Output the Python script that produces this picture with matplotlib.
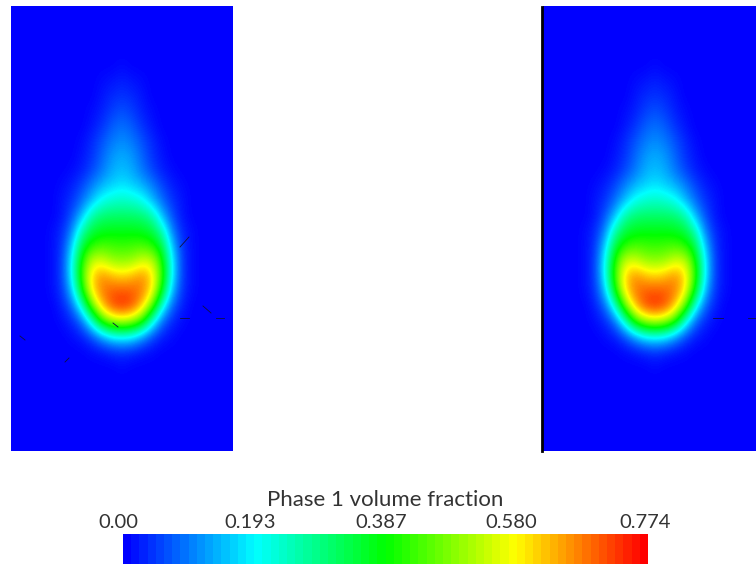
import numpy as np
import matplotlib
matplotlib.use('Agg')
import matplotlib.pyplot as plt
from matplotlib.colors import LinearSegmentedColormap

W, H = 756, 565
VMAX = 0.774

TITLE = 'Phase 1 volume fraction'
TICK_LABELS = ['0.00', '0.193', '0.387', '0.580', '0.774']
TICK_PIXELS = [118, 250, 381, 511, 645]

# half of the plume, share of the colour scale
# columns: 0, 10, ... 110 px from the plume axis, rows: y = 6, 21, ... 456 px
OFFSETS = np.arange(0, 120, 10)
ROWS_Y = np.arange(6, 470, 15)
HALF_PLUME = [
    [0, 0, 0, 0, 0, 0, 0, 0, 0, 0, 0, 0],
    [0, 0, 0, 0, 0, 0, 0, 0, 0, 0, 0, 0],
    [0, 0, 0, 0, 0, 0, 0, 0, 0, 0, 0, 0],
    [0, 0, 0, 0, 0, 0, 0, 0, 0, 0, 0, 0],
    [.01, 0, 0, 0, 0, 0, 0, 0, 0, 0, 0, 0],
    [.03, .02, .01, 0, 0, 0, 0, 0, 0, 0, 0, 0],
    [.05, .04, .02, 0, 0, 0, 0, 0, 0, 0, 0, 0],
    [.08, .06, .03, .01, 0, 0, 0, 0, 0, 0, 0, 0],
    [.11, .09, .05, .02, 0, 0, 0, 0, 0, 0, 0, 0],
    [.14, .12, .08, .04, .01, 0, 0, 0, 0, 0, 0, 0],
    [.17, .15, .10, .05, .02, 0, 0, 0, 0, 0, 0, 0],
    [.19, .17, .12, .07, .03, .01, 0, 0, 0, 0, 0, 0],
    [.23, .21, .18, .13, .07, .03, .01, 0, 0, 0, 0, 0],
    [.31, .30, .27, .19, .11, .05, .02, 0, 0, 0, 0, 0],
    [.40, .40, .39, .34, .19, .08, .02, 0, 0, 0, 0, 0],
    [.48, .48, .47, .44, .33, .13, .04, .01, 0, 0, 0, 0],
    [.55, .56, .57, .54, .44, .20, .05, .01, 0, 0, 0, 0],
    [.64, .65, .71, .70, .53, .25, .06, .01, 0, 0, 0, 0],
    [.79, .82, .86, .79, .56, .25, .06, .01, 0, 0, 0, 0],
    [.92, .91, .88, .77, .49, .19, .05, .01, 0, 0, 0, 0],
    [.96, .93, .81, .60, .29, .10, .03, 0, 0, 0, 0, 0],
    [.70, .66, .55, .30, .11, .04, .01, 0, 0, 0, 0, 0],
    [.27, .25, .17, .08, .03, .01, 0, 0, 0, 0, 0, 0],
    [.05, .04, .02, .01, 0, 0, 0, 0, 0, 0, 0, 0],
    [.01, 0, 0, 0, 0, 0, 0, 0, 0, 0, 0, 0],
    [0, 0, 0, 0, 0, 0, 0, 0, 0, 0, 0, 0],
    [0, 0, 0, 0, 0, 0, 0, 0, 0, 0, 0, 0],
    [0, 0, 0, 0, 0, 0, 0, 0, 0, 0, 0, 0],
    [0, 0, 0, 0, 0, 0, 0, 0, 0, 0, 0, 0],
    [0, 0, 0, 0, 0, 0, 0, 0, 0, 0, 0, 0],
    [0, 0, 0, 0, 0, 0, 0, 0, 0, 0, 0, 0],
]

# small dark mesh artefacts, (x0, y0, x1, y1) in px
LEFT_SPECKS = [(180, 247, 189, 237), (203, 306, 211, 313), (180, 318, 189, 318),
               (216, 318, 224, 318), (113, 323, 118, 327), (20, 336, 25, 340),
               (65, 362, 69, 358)]
RIGHT_SPECKS = [(713, 318, 723, 318), (748, 318, 756, 318)]

COLOURS = ['#0000ff', '#00ffff', '#00ff00', '#ffff00', '#ff0000']


def add_panel(fig, left, right, centre, specks):
    ax = fig.add_axes([left / W, 1 - 451 / H, (right - left) / W, 445 / H])
    half = np.array(HALF_PLUME) * VMAX
    field = np.hstack([half[:, :0:-1], half])
    ax.imshow(field, cmap=jet_like, vmin=0, vmax=VMAX, aspect='auto',
              interpolation='bicubic', interpolation_stage='data',
              extent=(-OFFSETS[-1] - 5, OFFSETS[-1] + 5, ROWS_Y[-1] + 7.5, ROWS_Y[0] - 7.5))
    for x0, y0, x1, y1 in specks:
        ax.plot([x0 - centre, x1 - centre], [y0, y1], color='#101040', lw=0.6)
    ax.set_xlim(left - centre, right - centre)
    ax.set_ylim(451, 6)
    ax.axis('off')
    return ax


jet_like = LinearSegmentedColormap.from_list('jet_like', COLOURS, N=256)
bands = LinearSegmentedColormap.from_list('bands', COLOURS, N=64)

plt.rcParams['font.family'] = ['Lato', 'DejaVu Sans']
fig = plt.figure(figsize=(W / 100, H / 100), dpi=100)

add_panel(fig, 11, 233, 122, LEFT_SPECKS)
add_panel(fig, 543, 756, 655, RIGHT_SPECKS)

# black edge on the left of the second panel
fig.add_artist(plt.Line2D([542 / W, 542 / W], [1 - 451 / H, 1 - 7 / H], color='black', lw=2))

# colour bar
cax = fig.add_axes([123 / W, 1 - 564 / H, 525 / W, 30 / H])
sm = plt.cm.ScalarMappable(cmap=bands, norm=plt.Normalize(0, VMAX))
cb = fig.colorbar(sm, cax=cax, orientation='horizontal')
cb.outline.set_visible(False)
cb.set_ticks([])

fig.text(385.5 / W, 1 - 500 / H, TITLE, ha='center', va='center', fontsize=16, color='#333333')
for label, px in zip(TICK_LABELS, TICK_PIXELS):
    fig.text(px / W, 1 - 523 / H, label, ha='center', va='center', fontsize=14.5, color='#333333')

fig.savefig('out.png', dpi=100)
